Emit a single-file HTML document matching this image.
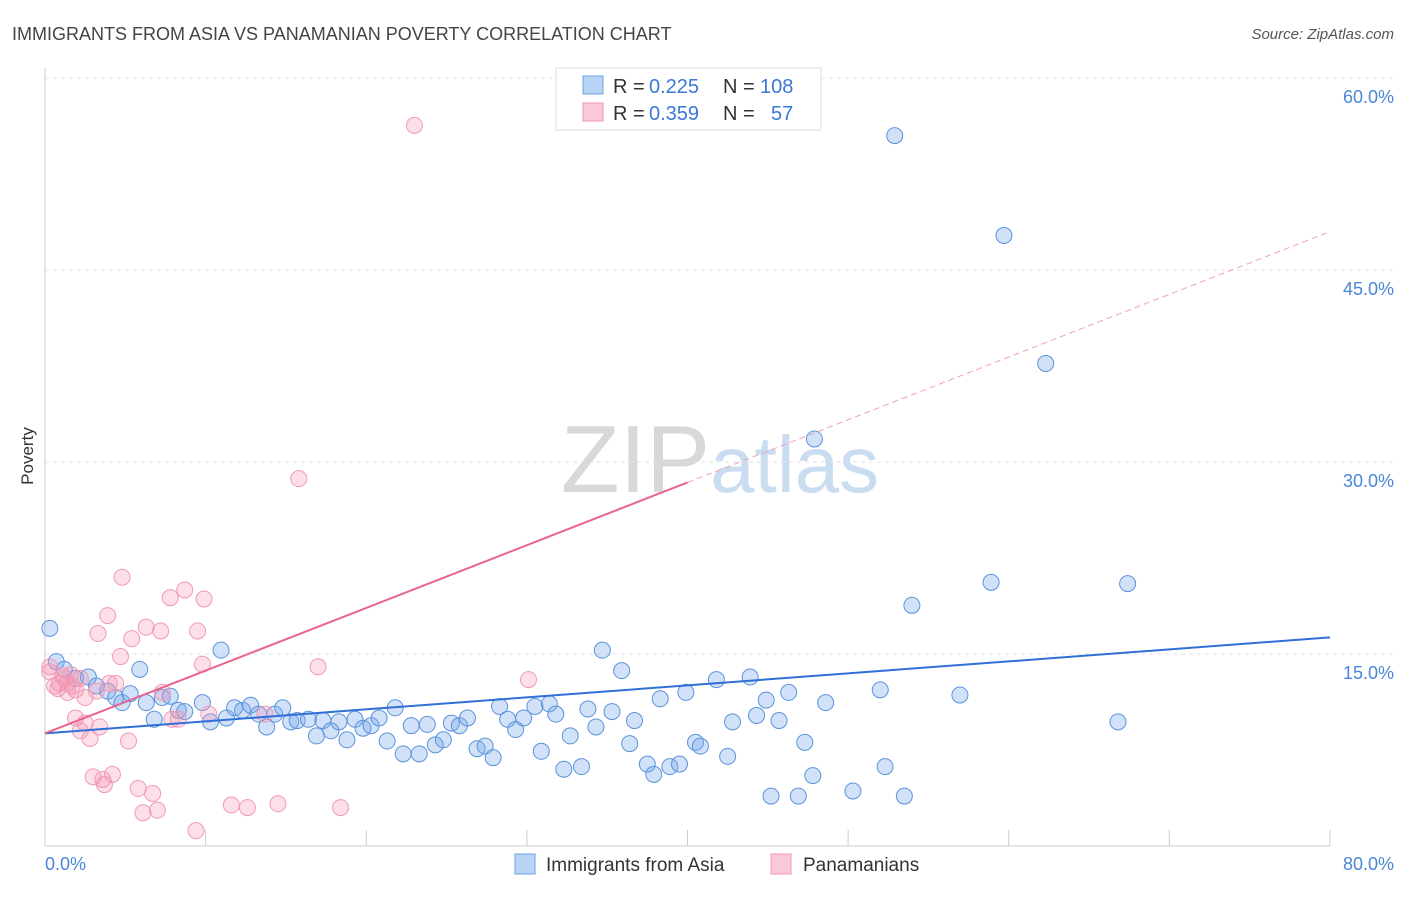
<!DOCTYPE html>
<html><head><meta charset="utf-8"><style>
body{margin:0;background:#fff;font-family:"Liberation Sans",sans-serif;}
svg text{font-family:"Liberation Sans",sans-serif;}
</style></head><body>
<svg id="chart" width="1406" height="892" xmlns="http://www.w3.org/2000/svg">
<text x="12" y="40" font-size="18" fill="#444">IMMIGRANTS FROM ASIA VS PANAMANIAN POVERTY CORRELATION CHART</text>
<text x="1394" y="39" font-size="15" fill="#555" text-anchor="end" font-style="italic">Source: ZipAtlas.com</text>
<text x="720" y="492" font-size="96" fill="#ddd" text-anchor="middle" font-family="Liberation Serif"><tspan fill="#d8d8d8">ZIP</tspan><tspan fill="#c9dcf0" font-family="Liberation Sans" font-size="80">atlas</tspan></text>
<g id="grid"></g>
<g id="axes"></g>
<g id="points"></g>
<g id="trends"></g>
<text transform="translate(33,456) rotate(-90)" font-size="17" fill="#333" text-anchor="middle">Poverty</text>
<text x="45" y="870" font-size="18" fill="#4a86d8">0.0%</text>
<text x="1394" y="870" font-size="18" fill="#4a86d8" text-anchor="end">80.0%</text>
<g>
<rect x="556" y="68" width="265" height="62" fill="#fff" stroke="#ddd"/>
<rect x="583" y="76" width="20" height="18" fill="#b7d3f5" stroke="#6fa0e0"/>
<rect x="583" y="103" width="20" height="18" fill="#fbc8d8" stroke="#f09ab6"/>
<text x="613" y="93" font-size="20" fill="#333">R =</text>
<text x="649" y="93" font-size="20" fill="#3a78d8">0.225</text>
<text x="723" y="93" font-size="20" fill="#333">N =</text>
<text x="760" y="93" font-size="20" fill="#3a78d8">108</text>
<text x="613" y="120" font-size="20" fill="#333">R =</text>
<text x="649" y="120" font-size="20" fill="#3a78d8">0.359</text>
<text x="723" y="120" font-size="20" fill="#333">N =</text>
<text x="771" y="120" font-size="20" fill="#3a78d8">57</text>
</g>
<g>
<rect x="515" y="854" width="20" height="20" fill="#b7d3f5" stroke="#6fa0e0"/>
<text x="546" y="871" font-size="19" fill="#333">Immigrants from Asia</text>
<rect x="771" y="854" width="20" height="20" fill="#fbc8d8" stroke="#f09ab6"/>
<text x="803" y="871" font-size="19" fill="#333">Panamanians</text>
</g>
</svg>
<script>
const yTicks=[15,30,45,60];
const xTicks=[0,10,20,30,40,50,60,70,80];
const blueX=[0.3,0.7,1.2,1.9,2.7,3.2,3.9,4.4,4.8,5.3,5.9,6.3,6.8,7.3,7.8,8.3,8.7,9.8,10.3,10.96,11.3,11.8,12.3,12.8,13.3,13.8,14.3,14.8,15.3,15.7,16.4,16.9,17.3,17.8,18.3,18.8,19.3,19.8,20.3,20.8,21.3,21.8,22.3,22.8,23.3,23.8,24.3,24.8,25.3,25.8,26.3,26.9,27.4,27.9,28.3,28.8,29.3,29.8,30.5,30.9,31.4,31.8,32.3,32.7,33.4,33.8,34.3,34.7,35.3,35.9,36.4,36.7,37.5,37.9,38.3,38.9,39.5,39.9,40.5,40.8,41.8,42.5,42.8,43.9,44.3,44.9,45.2,45.7,46.3,46.9,47.3,47.8,47.9,48.6,50.3,52.0,52.3,52.9,53.5,53.97,56.96,58.9,59.7,62.3,66.8,67.4];
const blueY=[17.0,14.4,13.8,13.1,13.2,12.5,12.1,11.6,11.2,11.9,13.8,11.2,9.9,11.6,11.7,10.6,10.5,11.2,9.7,15.3,10.0,10.8,10.6,11.0,10.3,9.3,10.3,10.8,9.7,9.8,9.9,8.6,9.8,9.0,9.7,8.3,9.9,9.2,9.4,10.0,8.2,10.8,7.2,9.4,7.2,9.5,7.9,8.3,9.6,9.4,10.0,7.6,7.8,6.9,10.9,9.9,9.1,10.0,10.9,7.4,11.1,10.3,6.0,8.6,6.2,10.7,9.3,15.3,10.5,13.7,8.0,9.8,6.4,5.6,11.5,6.2,6.4,12.0,8.1,7.8,13.0,7.0,9.7,13.2,10.2,11.4,3.9,9.8,12.0,3.9,8.1,5.5,31.8,11.2,4.3,12.2,6.2,55.5,3.9,18.8,11.8,20.6,47.7,37.7,9.7,20.5];
const pinkX=[0.3,0.6,0.9,1.1,1.4,1.7,1.9,2.2,2.5,1.9,2.2,2.5,2.8,3.0,3.3,3.4,3.6,3.7,3.9,4.2,4.4,4.7,4.8,5.2,5.4,5.8,6.1,6.3,6.7,7.0,7.2,7.3,7.8,7.9,8.3,8.7,9.4,9.5,9.8,9.9,10.2,11.6,12.6,13.7,14.5,15.8,17.0,18.4,23.0,30.1,0.3,0.8,1.2,1.6,1.4,3.2,4.0];
const pinkY=[14.0,12.5,12.7,13.3,12.0,12.5,12.2,13.1,11.6,10.0,9.0,9.6,8.4,5.4,16.6,9.3,5.2,4.8,18.0,5.6,12.7,14.8,21.0,8.2,16.2,4.5,2.6,17.1,4.1,2.8,16.8,12.0,19.4,9.9,9.9,20.0,1.2,16.8,14.2,19.3,10.3,3.2,3.0,10.3,3.3,28.7,14.0,3.0,56.3,13.0,13.6,12.3,13.1,13.4,12.7,12.1,12.7];
const blueFit=[0,8.8,80,16.3];
const pinkFit=[0,8.8,40,28.4,80,48.0];
const X=v=>45+v*(1285/80), Y=v=>846-v*12.8;
const NS="http://www.w3.org/2000/svg";
function mk(p,t,a){const e=document.createElementNS(NS,t);for(const k in a)e.setAttribute(k,a[k]);p.appendChild(e);return e;}
const grid=document.getElementById('grid'),axes=document.getElementById('axes'),pts=document.getElementById('points'),tr=document.getElementById('trends');
yTicks.forEach(v=>{
 const l=mk(grid,'line',{x1:45,x2:1394,y1:Y(v),y2:Y(v),stroke:'#e2e2e2','stroke-dasharray':'4,4'});
 
 
 const t=mk(grid,'text',{x:1394,y:Y(v)+25,'font-size':18,fill:'#4a86d8','text-anchor':'end'});t.textContent=v.toFixed(1)+'%';
 
 
});
const topGrid=mk(grid,'line',{x1:45,x2:1394,y1:78,y2:78,stroke:'#e2e2e2','stroke-dasharray':'4,4'});


const ya=mk(axes,'line',{x1:45,x2:45,y1:68,y2:846,stroke:'#ccc'});


const xa=mk(axes,'line',{x1:45,x2:1330,y1:846,y2:846,stroke:'#ccc'});


xTicks.forEach(v=>{const t=mk(axes,'line',{x1:X(v),x2:X(v),y1:830,y2:846,stroke:'#ccc'});
 
 });
blueX.forEach((x,i)=>{const c=mk(pts,'circle',{cx:X(x),cy:Y(blueY[i]),r:8,fill:'rgba(120,170,235,0.35)',stroke:'#5b93dc','stroke-width':1});
 
 });
pinkX.forEach((x,i)=>{const c=mk(pts,'circle',{cx:X(x),cy:Y(pinkY[i]),r:8,fill:'rgba(245,150,180,0.3)',stroke:'#f09ab6','stroke-width':1});
 
 });
const bl=mk(tr,'line',{x1:X(blueFit[0]),y1:Y(blueFit[1]),x2:X(blueFit[2]),y2:Y(blueFit[3]),stroke:'#2f6fd6','stroke-width':2});


const pl=mk(tr,'line',{x1:X(pinkFit[0]),y1:Y(pinkFit[1]),x2:X(pinkFit[2]),y2:Y(pinkFit[3]),stroke:'#e8648e','stroke-width':2});


const pd=mk(tr,'line',{x1:X(pinkFit[2]),y1:Y(pinkFit[3]),x2:X(pinkFit[4]),y2:Y(pinkFit[5]),stroke:'#f0a0b8','stroke-width':1,'stroke-dasharray':'6,4'});


</script>
</body></html>
